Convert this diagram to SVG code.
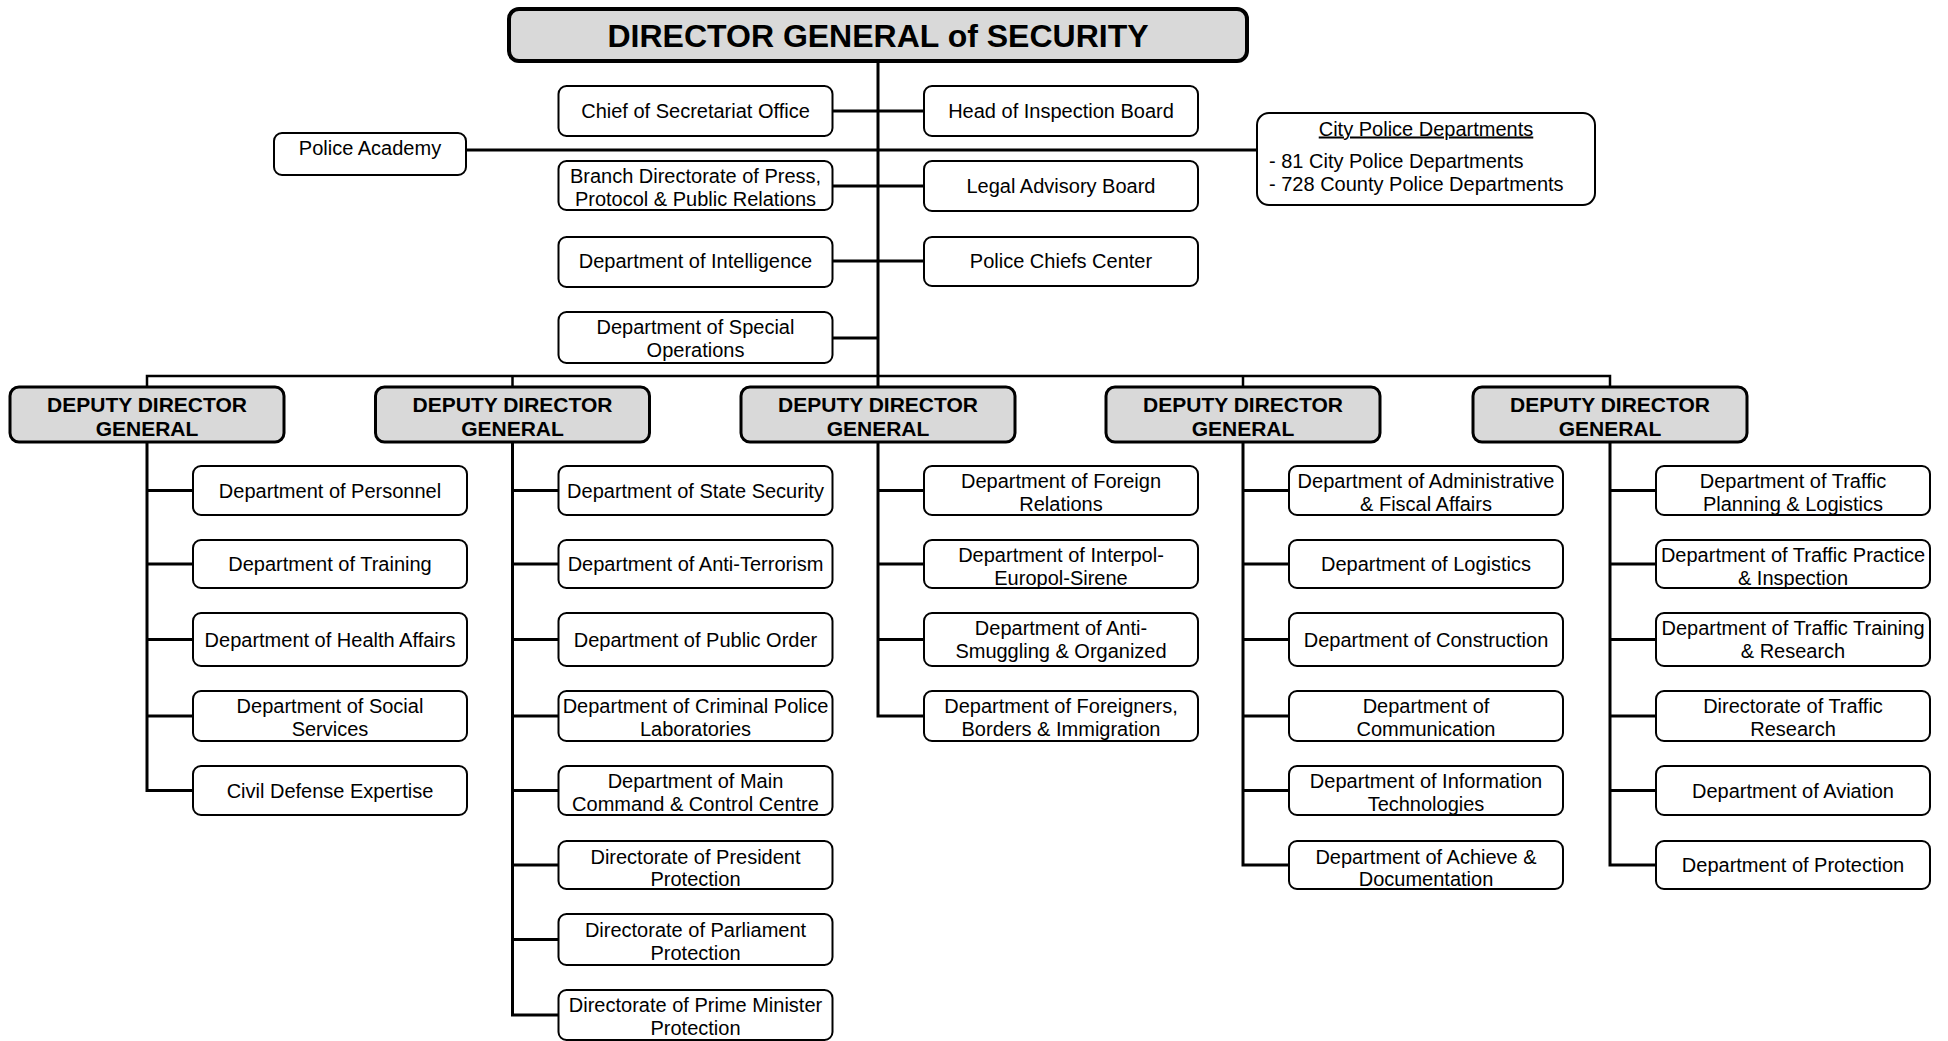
<svg xmlns="http://www.w3.org/2000/svg" width="1948" height="1041" viewBox="0 0 1948 1041">
<style>
.box{fill:#fff;stroke:#000;stroke-width:2}
.ddg{fill:#d9d9d9;stroke:#000;stroke-width:3}
.dg{fill:#d9d9d9;stroke:#000;stroke-width:4}
text{font-family:"Liberation Sans",Arial,sans-serif;font-size:20px;fill:#000;text-anchor:middle}
.b{font-weight:bold;font-size:21px}
.title{font-weight:bold;font-size:32px}
.conn path{stroke:#000;stroke-width:3;fill:none}
</style>
<defs>
<clipPath id="c-interpol"><rect x="925" y="541" width="273" height="46"/></clipPath>
<clipPath id="c-foreigners"><rect x="925" y="692" width="273" height="48"/></clipPath>
<clipPath id="c-it"><rect x="1290" y="767" width="273" height="47"/></clipPath>
<clipPath id="c-tplan"><rect x="1657" y="467" width="273" height="47"/></clipPath>
<clipPath id="c-tprac"><rect x="1657" y="541" width="273" height="46"/></clipPath>
</defs>

<g id="connectors" class="conn">
<path d="M878 61V387"/>
<path d="M466 150H1257"/>
<path d="M833 111H924M833 186H924M833 261H924M833 338H878"/>
<path d="M147 388V376H1610V388M512.5 376V388" style="stroke-width:2.5"/>
<path d="M1243 376V388" style="stroke-width:2.5"/>
<path d="M147 442V790.5H193M147 490.5H193M147 564H193M147 639.5H193M147 716H193"/>
<path d="M512.5 442V1015H558.5M512.5 490.5H558.5M512.5 564H558.5M512.5 639.5H558.5M512.5 716H558.5M512.5 790.5H558.5M512.5 865H558.5M512.5 939.5H558.5"/>
<path d="M878 442V716H924M878 490.5H924M878 564H924M878 639.5H924"/>
<path d="M1243 442V865H1289M1243 490.5H1289M1243 564H1289M1243 639.5H1289M1243 716H1289M1243 790.5H1289"/>
<path d="M1610 442V865H1656M1610 490.5H1656M1610 564H1656M1610 639.5H1656M1610 716H1656M1610 790.5H1656"/>
</g>

<g id="dg"><rect class="dg" x="509" y="9" width="738" height="52" rx="10"/><text class="title" x="878" y="47">DIRECTOR GENERAL of SECURITY</text></g>

<g id="police-academy"><rect class="box" x="274" y="133" width="192" height="42" rx="8"/><text x="370" y="155">Police Academy</text></g>
<g id="city-police"><rect class="box" x="1257" y="113" width="338" height="92" rx="12"/><text x="1426" y="135.5" text-decoration="underline">City Police Departments</text><text x="1269" y="168" style="text-anchor:start">- 81 City Police Departments</text><text x="1269" y="191" style="text-anchor:start">- 728 County Police Departments</text></g>

<g id="chief-secretariat"><rect class="box" x="558.5" y="86" width="274" height="50" rx="8"/><text x="695.5" y="118">Chief of Secretariat Office</text></g>
<g id="branch-press"><rect class="box" x="558.5" y="161" width="274" height="49" rx="8"/><text x="695.5" y="183">Branch Directorate of Press,</text><text x="695.5" y="206">Protocol &amp; Public Relations</text></g>
<g id="intelligence"><rect class="box" x="558.5" y="237" width="274" height="50" rx="8"/><text x="695.5" y="268">Department of Intelligence</text></g>
<g id="special-ops"><rect class="box" x="558.5" y="312" width="274" height="51" rx="8"/><text x="695.5" y="334">Department of Special</text><text x="695.5" y="357">Operations</text></g>
<g id="inspection"><rect class="box" x="924" y="86" width="274" height="50" rx="8"/><text x="1061" y="118">Head of Inspection Board</text></g>
<g id="legal"><rect class="box" x="924" y="161" width="274" height="50" rx="8"/><text x="1061" y="193">Legal Advisory Board</text></g>
<g id="chiefs-center"><rect class="box" x="924" y="237" width="274" height="49" rx="8"/><text x="1061" y="268">Police Chiefs Center</text></g>

<g id="ddg1"><rect class="ddg" x="10" y="387" width="274" height="55" rx="9"/><text class="b" x="147" y="412">DEPUTY DIRECTOR</text><text class="b" x="147" y="436">GENERAL</text></g>
<g id="ddg2"><rect class="ddg" x="375.5" y="387" width="274" height="55" rx="9"/><text class="b" x="512.5" y="412">DEPUTY DIRECTOR</text><text class="b" x="512.5" y="436">GENERAL</text></g>
<g id="ddg3"><rect class="ddg" x="741" y="387" width="274" height="55" rx="9"/><text class="b" x="878" y="412">DEPUTY DIRECTOR</text><text class="b" x="878" y="436">GENERAL</text></g>
<g id="ddg4"><rect class="ddg" x="1106" y="387" width="274" height="55" rx="9"/><text class="b" x="1243" y="412">DEPUTY DIRECTOR</text><text class="b" x="1243" y="436">GENERAL</text></g>
<g id="ddg5"><rect class="ddg" x="1473" y="387" width="274" height="55" rx="9"/><text class="b" x="1610" y="412">DEPUTY DIRECTOR</text><text class="b" x="1610" y="436">GENERAL</text></g>

<!-- column 1 -->
<g id="personnel"><rect class="box" x="193" y="466" width="274" height="49" rx="8"/><text x="330" y="497.5">Department of Personnel</text></g>
<g id="training"><rect class="box" x="193" y="540" width="274" height="48" rx="8"/><text x="330" y="571">Department of Training</text></g>
<g id="health"><rect class="box" x="193" y="613" width="274" height="53" rx="8"/><text x="330" y="646.5">Department of Health Affairs</text></g>
<g id="social"><rect class="box" x="193" y="691" width="274" height="50" rx="8"/><text x="330" y="713">Department of Social</text><text x="330" y="736">Services</text></g>
<g id="civil-defense"><rect class="box" x="193" y="766" width="274" height="49" rx="8"/><text x="330" y="797.5">Civil Defense Expertise</text></g>

<!-- column 2 -->
<g id="state-security"><rect class="box" x="558.5" y="466" width="274" height="49" rx="8"/><text x="695.5" y="497.5">Department of State Security</text></g>
<g id="anti-terrorism"><rect class="box" x="558.5" y="540" width="274" height="48" rx="8"/><text x="695.5" y="571">Department of Anti-Terrorism</text></g>
<g id="public-order"><rect class="box" x="558.5" y="613" width="274" height="53" rx="8"/><text x="695.5" y="646.5">Department of Public Order</text></g>
<g id="crime-labs"><rect class="box" x="558.5" y="691" width="274" height="50" rx="8"/><text x="695.5" y="713">Department of Criminal Police</text><text x="695.5" y="736">Laboratories</text></g>
<g id="main-command"><rect class="box" x="558.5" y="766" width="274" height="49" rx="8"/><text x="695.5" y="788">Department of Main</text><text x="695.5" y="811">Command &amp; Control Centre</text></g>
<g id="president"><rect class="box" x="558.5" y="841" width="274" height="48" rx="8"/><text x="695.5" y="863.5">Directorate of President</text><text x="695.5" y="886">Protection</text></g>
<g id="parliament"><rect class="box" x="558.5" y="914" width="274" height="51" rx="8"/><text x="695.5" y="936.5">Directorate of Parliament</text><text x="695.5" y="959.5">Protection</text></g>
<g id="prime-minister"><rect class="box" x="558.5" y="990" width="274" height="50" rx="8"/><text x="695.5" y="1012">Directorate of Prime Minister</text><text x="695.5" y="1035">Protection</text></g>

<!-- column 3 -->
<g id="foreign"><rect class="box" x="924" y="466" width="274" height="49" rx="8"/><text x="1061" y="488">Department of Foreign</text><text x="1061" y="511">Relations</text></g>
<g id="interpol"><rect class="box" x="924" y="540" width="274" height="48" rx="8"/><g clip-path="url(#c-interpol)"><text x="1061" y="562">Department of Interpol-</text><text x="1061" y="585">Europol-Sirene</text></g></g>
<g id="anti-smuggling"><rect class="box" x="924" y="613" width="274" height="53" rx="8"/><text x="1061" y="635">Department of Anti-</text><text x="1061" y="657.5">Smuggling &amp; Organized</text></g>
<g id="foreigners"><rect class="box" x="924" y="691" width="274" height="50" rx="8"/><g clip-path="url(#c-foreigners)"><text x="1061" y="713">Department of Foreigners,</text><text x="1061" y="736">Borders &amp; Immigration</text></g></g>

<!-- column 4 -->
<g id="admin-fiscal"><rect class="box" x="1289" y="466" width="274" height="49" rx="8"/><text x="1426" y="488">Department of Administrative</text><text x="1426" y="511">&amp; Fiscal Affairs</text></g>
<g id="logistics"><rect class="box" x="1289" y="540" width="274" height="48" rx="8"/><text x="1426" y="571">Department of Logistics</text></g>
<g id="construction"><rect class="box" x="1289" y="613" width="274" height="53" rx="8"/><text x="1426" y="646.5">Department of Construction</text></g>
<g id="communication"><rect class="box" x="1289" y="691" width="274" height="50" rx="8"/><text x="1426" y="713">Department of</text><text x="1426" y="736">Communication</text></g>
<g id="it"><rect class="box" x="1289" y="766" width="274" height="49" rx="8"/><g clip-path="url(#c-it)"><text x="1426" y="788">Department of Information</text><text x="1426" y="811">Technologies</text></g></g>
<g id="achieve"><rect class="box" x="1289" y="841" width="274" height="48" rx="8"/><text x="1426" y="863.5">Department of Achieve &amp;</text><text x="1426" y="886">Documentation</text></g>

<!-- column 5 -->
<g id="traffic-planning"><rect class="box" x="1656" y="466" width="274" height="49" rx="8"/><g clip-path="url(#c-tplan)"><text x="1793" y="488">Department of Traffic</text><text x="1793" y="511">Planning &amp; Logistics</text></g></g>
<g id="traffic-practice"><rect class="box" x="1656" y="540" width="274" height="48" rx="8"/><g clip-path="url(#c-tprac)"><text x="1793" y="562">Department of Traffic Practice</text><text x="1793" y="585">&amp; Inspection</text></g></g>
<g id="traffic-training"><rect class="box" x="1656" y="613" width="274" height="53" rx="8"/><text x="1793" y="635">Department of Traffic Training</text><text x="1793" y="657.5">&amp; Research</text></g>
<g id="traffic-research"><rect class="box" x="1656" y="691" width="274" height="50" rx="8"/><text x="1793" y="713">Directorate of Traffic</text><text x="1793" y="736">Research</text></g>
<g id="aviation"><rect class="box" x="1656" y="766" width="274" height="49" rx="8"/><text x="1793" y="797.5">Department of Aviation</text></g>
<g id="protection"><rect class="box" x="1656" y="841" width="274" height="48" rx="8"/><text x="1793" y="872">Department of Protection</text></g>
</svg>
